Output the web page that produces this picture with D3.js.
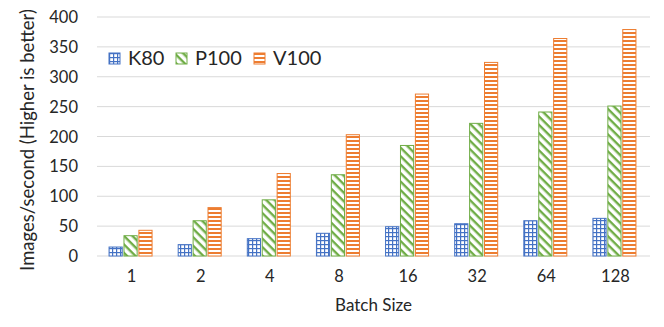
<!DOCTYPE html>
<html>
<head>
<meta charset="utf-8">
<script src="https://cdn.jsdelivr.net/npm/d3@7"></script>
<style>
  body { margin: 0; background: #fff; }
  text { font-family: Lato, "Open Sans", sans-serif; fill: #262626; }
</style>
</head>
<body>
<svg id="chart" width="664" height="327"></svg>
<script>
const batches = ["1", "2", "4", "8", "16", "32", "64", "128"];
const k80 = [15, 19, 29, 38, 49, 54, 59, 63];
const p100 = [34, 59, 94, 136, 185, 222, 241, 251];
const v100 = [43, 81, 138, 203, 271, 324, 364, 379];
const yTicks = [0, 50, 100, 150, 200, 250, 300, 350, 400];

const series = [
  { name: "K80", values: k80, color: "#4472C4", pat: "pK80" },
  { name: "P100", values: p100, color: "#70AD47", pat: "pP100" },
  { name: "V100", values: v100, color: "#ED7D31", pat: "pV100" }
];

const svg = d3.select("#chart");
const mLeft = 97, mRight = 650, mTop = 17, mBottom = 256;

const x = d3.scaleBand().domain(batches).range([mLeft, mRight]);
const xs = d3.scaleBand().domain(series.map(s => s.name))
             .range([0, 44]).paddingInner(0.05);
const y = d3.scaleLinear().domain([0, 400]).range([mBottom, mTop]);

// patterns
const defs = svg.append("defs");
let p = defs.append("pattern").attr("id", "pK80").attr("patternUnits", "userSpaceOnUse")
            .attr("width", 4).attr("height", 4);
p.append("rect").attr("width", 4).attr("height", 4).attr("fill", "#fff");
p.append("rect").attr("width", 4).attr("height", 1.2).attr("fill", "#4472C4");
p.append("rect").attr("width", 1.2).attr("height", 4).attr("fill", "#4472C4");

p = defs.append("pattern").attr("id", "pP100").attr("patternUnits", "userSpaceOnUse")
        .attr("width", 6).attr("height", 6).attr("patternTransform", "rotate(45)");
p.append("rect").attr("width", 6).attr("height", 6).attr("fill", "#fff");
p.append("rect").attr("width", 6).attr("height", 2.4).attr("fill", "#70AD47");

p = defs.append("pattern").attr("id", "pV100").attr("patternUnits", "userSpaceOnUse")
        .attr("width", 4).attr("height", 4);
p.append("rect").attr("width", 4).attr("height", 4).attr("fill", "#fff");
p.append("rect").attr("width", 4).attr("height", 2).attr("fill", "#ED7D31");

// grid
svg.append("g").selectAll("line").data(yTicks).enter().append("line")
   .attr("x1", mLeft).attr("x2", mRight)
   .attr("y1", d => y(d)).attr("y2", d => y(d))
   .attr("stroke", "#d9d9d9").attr("stroke-width", 1);

svg.append("g").selectAll("text").data(yTicks).enter().append("text")
   .attr("x", 78).attr("y", d => y(d) + 6)
   .attr("text-anchor", "end").style("font-size", "16.5px")
   .text(d => d);

// bars
series.forEach(s => {
  svg.append("g").selectAll("rect").data(s.values).enter().append("rect")
     .attr("x", (d, i) => x(batches[i]) + x.bandwidth() / 2 - 23 + xs(s.name) + 0.5)
     .attr("y", d => y(d))
     .attr("width", xs.bandwidth() - 1)
     .attr("height", d => mBottom - y(d))
     .attr("fill", `url(#${s.pat})`)
     .attr("stroke", s.color).attr("stroke-width", 1);
});

// x labels
svg.append("g").selectAll("text").data(batches).enter().append("text")
   .attr("x", d => x(d) + x.bandwidth() / 2)
   .attr("y", 282).attr("text-anchor", "middle").style("font-size", "16.5px")
   .text(d => d);

svg.append("text").attr("x", (mLeft + mRight) / 2).attr("y", 311)
   .attr("text-anchor", "middle").style("font-size", "17px").text("Batch Size");

svg.append("text")
   .attr("transform", "translate(34,140) rotate(-90)")
   .attr("text-anchor", "middle").style("font-size", "18.5px")
   .text("Images/second (Higher is better)");

// legend
const legX = [109, 176, 254];
const leg = svg.append("g").selectAll("g").data(series).enter().append("g")
   .attr("transform", (d, i) => `translate(${legX[i]},53)`);
leg.append("rect").attr("width", 11).attr("height", 11)
   .attr("fill", d => `url(#${d.pat})`).attr("stroke", d => d.color);
leg.append("text").attr("x", 19).attr("y", 12).style("font-size", "20px")
   .text(d => d.name);
</script>
</body>
</html>
